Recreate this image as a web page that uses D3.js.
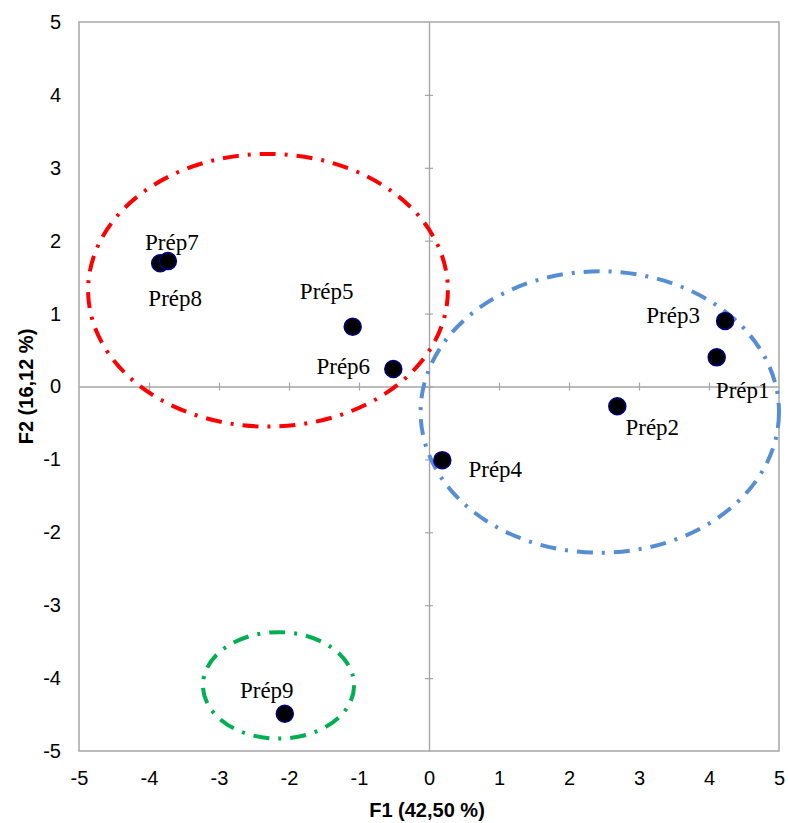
<!DOCTYPE html>
<meta charset="utf-8">
<style>
body { margin: 0; background: #fff; }
.tick text { font: 20px "Liberation Sans", Arial, sans-serif; fill: #000; }
.axis-title { font: bold 20px "Liberation Sans", Arial, sans-serif; }
.lbl { font: 23px "Liberation Serif", "Times New Roman", serif; fill: #000; }
.frame { fill: none; stroke: #a6a6a6; stroke-width: 1.5px; }
.zero path, .zero line { stroke: #a6a6a6; stroke-width: 1.2px; }
.ell { fill: none; stroke-width: 4px; stroke-dasharray: 16 9 3 9; }
</style>
<svg width="788" height="823"></svg>
<script src="https://d3js.org/d3.v7.min.js"></script>
<script>

// observations (F1, F2)
var names = ["Prép1", "Prép2", "Prép3", "Prép4", "Prép5", "Prép6", "Prép7", "Prép8", "Prép9"];
var f1 = [4.11, 2.69, 4.23, 0.19, -1.09, -0.51, -3.73, -3.84, -2.06];
var f2 = [0.40, -0.27, 0.90, -1.01, 0.82, 0.24, 1.72, 1.69, -4.49];
// label offsets in pixels (dx, dy of baseline centre)
var labelDx = [26, 35, -52, 53, -26, -50, 4, 15, -18];
var labelDy = [41, 29, 2, 17, -28, 5, -11, 43, -16];

// group ellipses: centre, radii (data units)
var ellColors = ["#ff0000", "#558ed5", "#00b050"];
var ellCx = [-2.30, 2.44, -2.15];
var ellCy = [1.32, -0.35, -4.10];
var ellRx = [2.57, 2.56, 1.08];
var ellRy = [1.87, 1.93, 0.73];

var ticks = [-5, -4, -3, -2, -1, 0, 1, 2, 3, 4, 5];

var svg = d3.select("svg"),
    margin = {top: 22, right: 9, bottom: 72, left: 79},
    width = +svg.attr("width") - margin.left - margin.right,
    height = +svg.attr("height") - margin.top - margin.bottom;

var x = d3.scaleLinear().domain([-5, 5]).range([0, width]),
    y = d3.scaleLinear().domain([-5, 5]).range([height, 0]);

var fmt = function(d) { return String(d); };

var g = svg.append("g")
    .attr("transform", "translate(" + margin.left + "," + margin.top + ")");

g.append("rect")
    .attr("class", "frame")
    .attr("width", width)
    .attr("height", height);

// tick labels on the frame
g.append("g")
    .attr("transform", "translate(0," + height + ")")
    .call(d3.axisBottom(x).tickValues(ticks).tickFormat(fmt).tickSize(0).tickPadding(20))
    .call(function(a) { a.select(".domain").remove(); });

g.append("g")
    .call(d3.axisLeft(y).tickValues(ticks).tickFormat(fmt).tickSize(0).tickPadding(18))
    .call(function(a) { a.select(".domain").remove(); });

// zero lines with small crossing ticks
[d3.axisBottom, d3.axisTop].forEach(function(ax) {
  g.append("g")
      .attr("class", "zero")
      .attr("transform", "translate(0," + y(0) + ")")
      .call(ax(x).tickValues(ticks.slice(1, -1)).tickSize(4).tickSizeOuter(0).tickFormat(""));
});
[d3.axisLeft, d3.axisRight].forEach(function(ax) {
  g.append("g")
      .attr("class", "zero")
      .attr("transform", "translate(" + x(0) + ",0)")
      .call(ax(y).tickValues(ticks.slice(1, -1)).tickSize(4).tickSizeOuter(0).tickFormat(""));
});

// ellipses
g.selectAll(".ell")
    .data(ellColors)
  .enter().append("ellipse")
    .attr("class", "ell")
    .attr("cx", function(d, i) { return x(ellCx[i]); })
    .attr("cy", function(d, i) { return y(ellCy[i]); })
    .attr("rx", function(d, i) { return x(ellRx[i]) - x(0); })
    .attr("ry", function(d, i) { return y(0) - y(ellRy[i]); })
    .style("stroke", function(d) { return d; });

// points, drawn from last to first so Prép7 sits on top of Prép8
var idx = d3.range(names.length).reverse();
g.selectAll(".dot")
    .data(idx)
  .enter().append("circle")
    .attr("class", "dot")
    .attr("cx", function(i) { return x(f1[i]); })
    .attr("cy", function(i) { return y(f2[i]); })
    .attr("r", 8.5)
    .style("fill", "#000")
    .style("stroke", "#000080")
    .style("stroke-width", 1.5);

g.selectAll(".lbl")
    .data(idx)
  .enter().append("text")
    .attr("class", "lbl")
    .attr("x", function(i) { return x(f1[i]) + labelDx[i]; })
    .attr("y", function(i) { return y(f2[i]) + labelDy[i]; })
    .attr("text-anchor", "middle")
    .text(function(i) { return names[i]; });

// axis titles
svg.append("text")
    .attr("class", "axis-title")
    .attr("x", 427)
    .attr("y", 817)
    .attr("text-anchor", "middle")
    .text("F1 (42,50 %)");

svg.append("text")
    .attr("class", "axis-title")
    .attr("transform", "translate(33," + (margin.top + y(0)) + ") rotate(-90)")
    .attr("text-anchor", "middle")
    .text("F2 (16,12 %)");

</script>
